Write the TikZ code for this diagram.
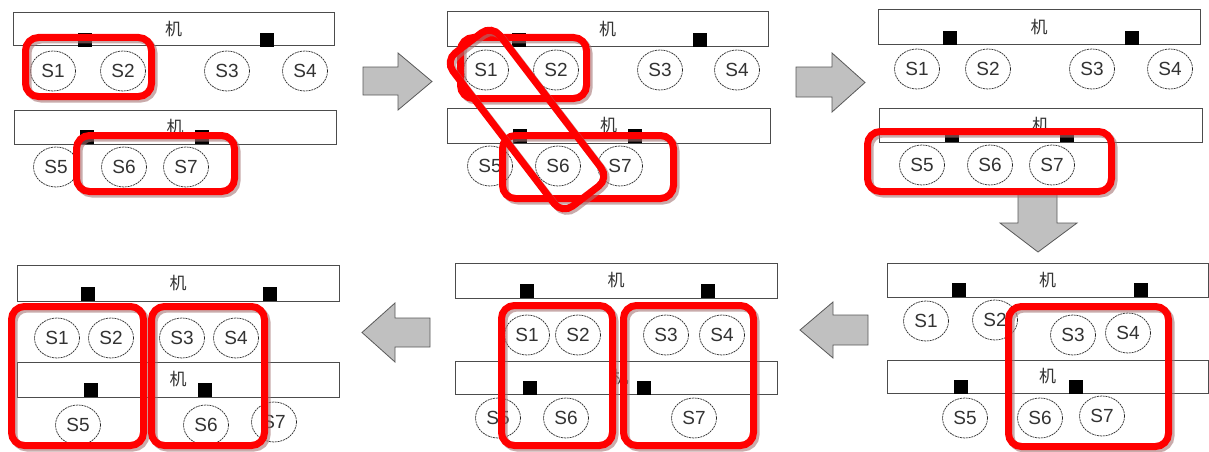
\documentclass[tikz,border=0pt]{standalone}
\usepackage{fontspec}
\setmainfont{Liberation Sans}
\newfontfamily\cjk{Noto Sans CJK SC}
\usetikzlibrary{shapes.geometric}
\definecolor{rshad}{RGB}{165,115,115}
\definecolor{arrfill}{RGB}{192,192,192}
\tikzset{
  bar/.style={draw=black!70, line width=1pt, fill=white, rectangle, inner sep=0pt, font=\cjk\fontsize{17}{17}\selectfont, text=black!80},
  sq/.style={fill=black, rectangle, minimum size=14pt, inner sep=0pt},
  st/.style={ellipse, draw=black!85, dash pattern=on 2pt off 0.8pt, line width=0.7pt, fill=white,
             minimum width=45pt, minimum height=40pt, inner sep=0pt,
             font=\fontsize{19}{19}\selectfont, text=black!80},
  rbox/.style={draw=red, line width=7pt, rounded corners=13pt},
  rshadow/.style={draw=rshad, line width=7pt, rounded corners=13pt, opacity=0.6},
  blockarrow/.style={fill=arrfill, draw=black!65, line width=0.8pt, line join=miter}
}
\newcommand\barn[6]{\node[bar, minimum width=#4pt, minimum height=#5pt] (#1) at (#2,#3) {#6};}
\newcommand\sqn[3]{\node[sq] (#1) at (#2,#3) {};}
\newcommand\stn[4]{\node[st] (#1) at (#2,#3) {#4};}
\newcommand\rbx[4]{\draw[rshadow,shift={(2.5,2.5)}] (#1,#2) rectangle (#3,#4); \draw[rbox] (#1,#2) rectangle (#3,#4);}
\begin{document}
\begin{tikzpicture}[x=1pt,y=-1pt]
\useasboundingbox (0,0) rectangle (1209,452);
\fill[white] (0,0) rectangle (1209,452);

% ---------- Panel 1 ----------
\barn{pa-top}{173.5}{29.5}{321}{33}{机}
\sqn{pa-q1}{85}{40}\sqn{pa-q2}{266.5}{40}
\stn{pa-s1}{53}{71}{S1}\stn{pa-s2}{123}{71}{S2}\stn{pa-s3}{227}{71}{S3}\stn{pa-s4}{305}{71}{S4}
\barn{pa-bot}{175}{127}{322}{34}{机}
\sqn{pa-q3}{87}{137}\sqn{pa-q4}{201.5}{137}
\stn{pa-s5}{56}{167}{S5}\stn{pa-s6}{124}{167}{S6}\stn{pa-s7}{186}{167}{S7}
\rbx{25.5}{37.5}{151.5}{96.5}
\rbx{76.5}{135.5}{234.5}{191.5}

% arrow 1
\draw[blockarrow] (363,67) -- (398,67) -- (398,53) -- (432,81.5) -- (398,110) -- (398,95) -- (363,95) -- cycle;

% ---------- Panel 2 ----------
\barn{pb-top}{607.5}{29.5}{321}{35}{机}
\sqn{pb-q1}{518.5}{40}\sqn{pb-q2}{699.5}{40}
\stn{pb-s1}{486}{70}{S1}\stn{pb-s2}{556}{70}{S2}\stn{pb-s3}{660}{70}{S3}\stn{pb-s4}{737}{70}{S4}
\barn{pb-bot}{608.5}{125.5}{323}{35}{机}
\sqn{pb-q3}{520}{136}\sqn{pb-q4}{635}{136}
\stn{pb-s5}{490}{166}{S5}\stn{pb-s6}{558}{166}{S6}\stn{pb-s7}{620}{166}{S7}
\rbx{460.5}{37.5}{586.5}{98.5}
\rbx{502.5}{135.5}{673.5}{198.5}
\begin{scope}[shift={(529.5,122)},rotate=-52.6]
  \draw[rshadow] (-96.5,-29.5) rectangle (96.5,29.5);
\end{scope}
\begin{scope}[shift={(527,119.5)},rotate=-52.6]
  \draw[rbox] (-96.5,-29.5) rectangle (96.5,29.5);
\end{scope}

% arrow 2
\draw[blockarrow] (796,67) -- (832,67) -- (832,53) -- (865,82.5) -- (832,112) -- (832,97) -- (796,97) -- cycle;

% ---------- Panel 3 ----------
\barn{pc-top}{1039}{27.5}{322}{35}{机}
\sqn{pc-q1}{950}{38}\sqn{pc-q2}{1131.5}{38}
\stn{pc-s1}{917}{69}{S1}\stn{pc-s2}{988}{69}{S2}\stn{pc-s3}{1092}{69}{S3}\stn{pc-s4}{1170}{69}{S4}
\barn{pc-bot}{1040.5}{125}{323}{34}{机}
\sqn{pc-q3}{952}{135}\sqn{pc-q4}{1066.5}{135}
\stn{pc-s5}{922}{165}{S5}\stn{pc-s6}{990}{165}{S6}\stn{pc-s7}{1052}{165}{S7}
% down arrow
\draw[blockarrow] (1018,190) -- (1018,223) -- (1000,223) -- (1038,252) -- (1077,223) -- (1057,223) -- (1057,190);
\rbx{867.5}{131.5}{1111.5}{191.5}

% ---------- Panel 4 (bottom right) ----------
\barn{pd-top}{1047.5}{280}{321}{34}{机}
\sqn{pd-q1}{959}{290}\sqn{pd-q2}{1140.5}{290}
\stn{pd-s1}{926}{321}{S1}\stn{pd-s2}{995}{320}{S2}\stn{pd-s3}{1073}{335}{S3}\stn{pd-s4}{1128}{333}{S4}
\barn{pd-bot}{1047.5}{376.5}{321}{33}{机}
\sqn{pd-q3}{960.5}{386.5}\sqn{pd-q4}{1075.5}{386.5}
\stn{pd-s5}{965}{418}{S5}\stn{pd-s6}{1040}{418}{S6}\stn{pd-s7}{1102}{416}{S7}
\rbx{1008.5}{306.5}{1168.5}{446.5}

% arrow 3 (left)
\draw[blockarrow] (868,315) -- (833,315) -- (833,302) -- (800,330) -- (833,358) -- (833,345) -- (868,345) -- cycle;

% ---------- Panel 5 (bottom middle) ----------
\barn{pe-top}{616}{280.5}{322}{35}{机}
\sqn{pe-q1}{526.5}{290.5}\sqn{pe-q2}{708}{290.5}
\stn{pe-s1}{527}{335}{S1}\stn{pe-s2}{578}{335}{S2}\stn{pe-s3}{666}{335}{S3}\stn{pe-s4}{722}{335}{S4}
\node[bar, minimum width=322pt, minimum height=33pt] (pe-bot) at (616,377.5) {};
\node[font=\cjk\fontsize{17}{17}\selectfont, text=black!80, inner sep=0pt] (pe-botl) at (pe-bot.center) [xshift=4pt] {机};
\sqn{pe-q3}{529.5}{387.5}\sqn{pe-q4}{643.5}{387.5}
\stn{pe-s5}{498}{418}{S5}\stn{pe-s6}{566}{418}{S6}\stn{pe-s7}{694}{418}{S7}
\rbx{501.5}{305.5}{612.5}{445.5}
\rbx{623.5}{305.5}{753.5}{445.5}

% arrow 4 (left)
\draw[blockarrow] (430,318) -- (395,318) -- (395,303) -- (362,332.5) -- (395,362) -- (395,347) -- (430,347) -- cycle;

% ---------- Panel 6 (bottom left) ----------
\barn{pf-top}{178}{283}{322}{36}{机}
\sqn{pf-q1}{88}{293.5}\sqn{pf-q2}{269.5}{293.5}
\stn{pf-s1}{57}{338}{S1}\stn{pf-s2}{111}{338}{S2}\stn{pf-s3}{182}{338}{S3}\stn{pf-s4}{236}{338}{S4}
\barn{pf-bot}{178}{379.5}{322}{35}{机}
\sqn{pf-q3}{90.5}{389.5}\sqn{pf-q4}{204.5}{389.5}
\stn{pf-s5}{78}{425}{S5}\stn{pf-s6}{206}{425}{S6}\stn{pf-s7}{274}{422}{S7}
\rbx{11.5}{306.5}{143.5}{445.5}
\rbx{151.5}{306.5}{264.5}{445.5}
\end{tikzpicture}
\end{document}
